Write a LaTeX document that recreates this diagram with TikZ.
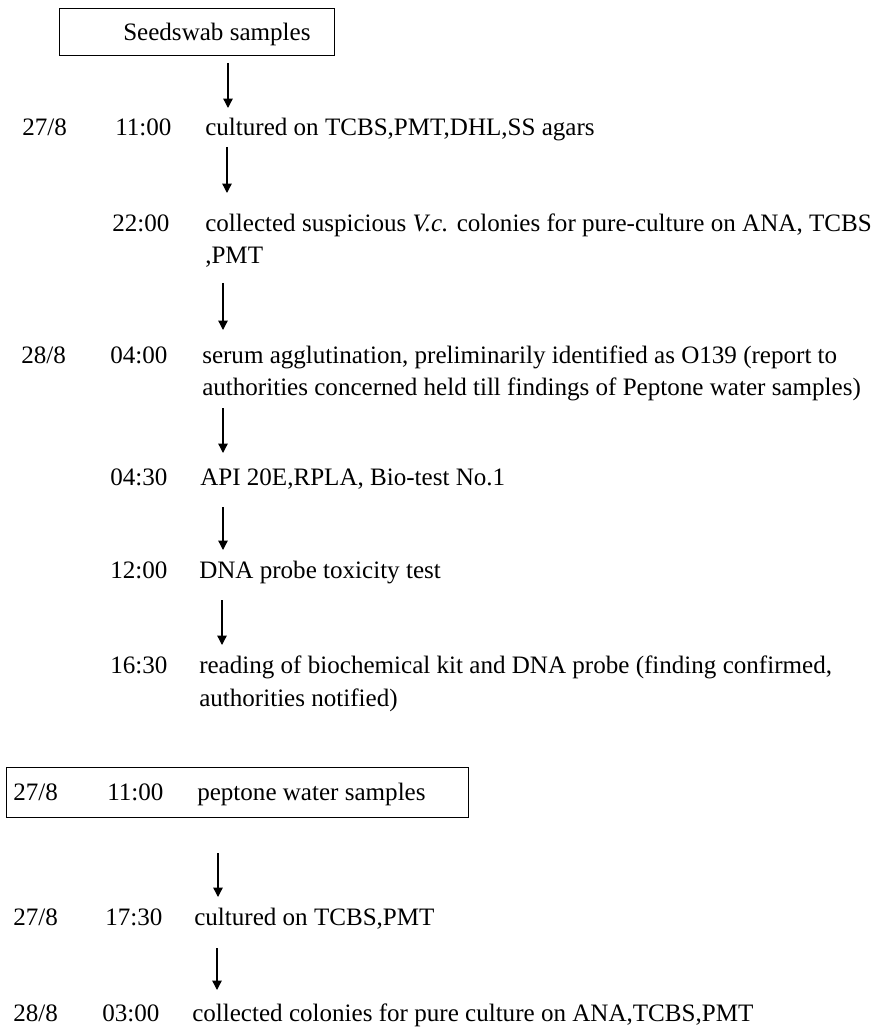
\documentclass[tikz,border=0pt]{standalone}
\usepackage{fontspec}
\setmainfont{Liberation Serif}
\usetikzlibrary{arrows.meta}

\begin{document}
\begin{tikzpicture}[x=0.75pt,y=-0.75pt,
    txt/.style={anchor=base west, inner sep=0pt, font=\fontsize{18.8}{24}\selectfont},
    flow/.style={-{Triangle[length=7pt,width=7pt]}, line width=1pt},
    frame/.style={draw, line width=1.1pt, anchor=north west, inner sep=0pt}]
  \useasboundingbox (0,0) rectangle (882,1030);

  % seedswab samples
  \node [frame, minimum width=206.25pt, minimum height=35.25pt] (seedbox) at (59,8) {};
  \node [txt] (seed) at (123,41) {Seedswab samples};

  \node [txt] (d1) at (22,136) {27/8};
  \node [txt] (t1) at (115,136) {11:00};
  \node [txt] (x1) at (205,136) {cultured on TCBS,PMT,DHL,SS agars};

  \node [txt] (t2) at (112,232) {22:00};
  \node [txt] (x2) at (205,232) {collected suspicious \textit{V.c.} colonies for pure-culture on ANA, TCBS};
  \node [txt] (x2b) at (205,264) {,PMT};

  \node [txt] (d3) at (21,363) {28/8};
  \node [txt] (t3) at (110,363) {04:00};
  \node [txt] (x3) at (202,363) {serum agglutination, preliminarily identified as O139 (report to};
  \node [txt] (x3b) at (202,395) {authorities concerned held till findings of Peptone water samples)};

  \node [txt] (t4) at (110,485) {04:30};
  \node [txt] (x4) at (200,485) {API 20E,RPLA, Bio-test No.1};

  \node [txt] (t5) at (110,578) {12:00};
  \node [txt] (x5) at (199,578) {DNA probe toxicity test};

  \node [txt] (t6) at (110,673) {16:30};
  \node [txt] (x6) at (199,673) {reading of biochemical kit and DNA probe (finding confirmed,};
  \node [txt] (x6b) at (199,706) {authorities notified)};

  % peptone water samples
  \node [frame, minimum width=346.5pt, minimum height=37.5pt] (pepbox) at (6,767) {};
  \node [txt] (d7) at (13,800) {27/8};
  \node [txt] (t7) at (107,800) {11:00};
  \node [txt] (x7) at (197,800) {peptone water samples};

  \node [txt] (d8) at (13,925) {27/8};
  \node [txt] (t8) at (105,925) {17:30};
  \node [txt] (x8) at (194,925) {cultured on TCBS,PMT};

  \node [txt] (d9) at (13,1021) {28/8};
  \node [txt] (t9) at (102,1021) {03:00};
  \node [txt] (x9) at (192,1021) {collected colonies for pure culture on ANA,TCBS,PMT};

  % arrow ends
  \coordinate (s1) at (228,63);  \coordinate (e1) at (228,108);
  \coordinate (s2) at (227,147); \coordinate (e2) at (227,193);
  \coordinate (s3) at (223,283); \coordinate (e3) at (223,330);
  \coordinate (s4) at (223,408); \coordinate (e4) at (223,453);
  \coordinate (s5) at (223,507); \coordinate (e5) at (223,550);
  \coordinate (s6) at (222,600); \coordinate (e6) at (222,645);
  \coordinate (s7) at (218,853); \coordinate (e7) at (218,897);
  \coordinate (s8) at (217,948); \coordinate (e8) at (217,990);
  \foreach \i in {1,...,8}
    \draw [flow] (s\i) -- (e\i);
\end{tikzpicture}
\end{document}
